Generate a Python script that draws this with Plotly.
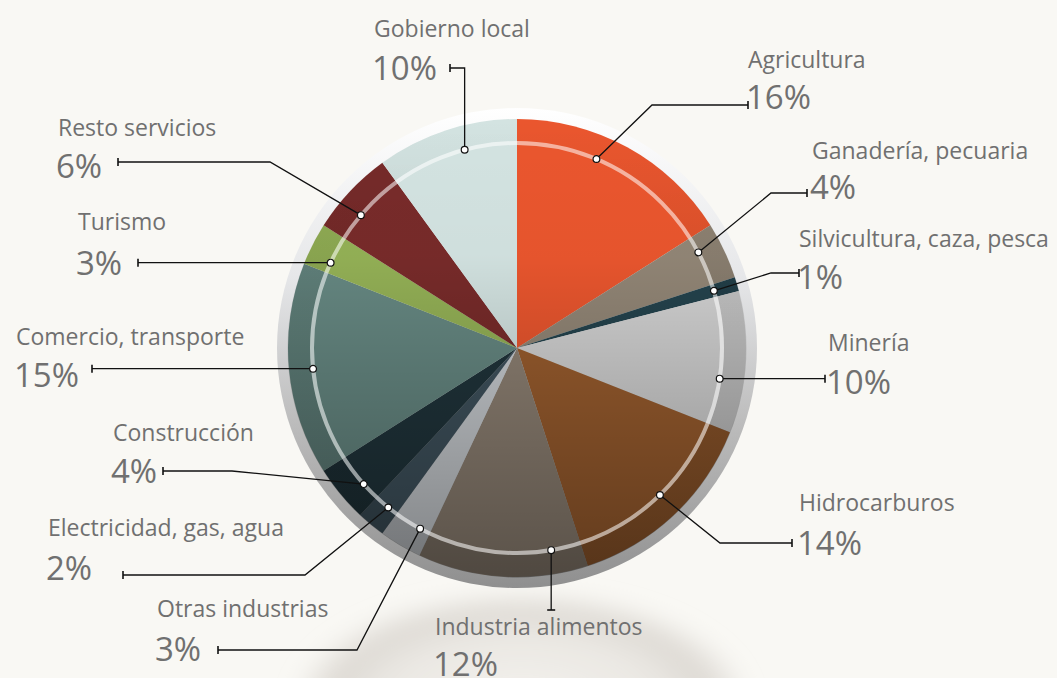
import base64
import math
import plotly.graph_objects as go

# ---------------- data ----------------
categories = [
    "Agricultura", "Ganadería, pecuaria", "Silvicultura, caza, pesca", "Minería",
    "Hidrocarburos", "Industria alimentos", "Otras industrias", "Electricidad, gas, agua",
    "Construcción", "Comercio, transporte", "Turismo", "Resto servicios", "Gobierno local",
]
shares = [16, 4, 1, 10, 14, 12, 3, 2, 4, 15, 3, 6, 10]
pct_labels = [f"{v}%" for v in shares]

# ---------------- styles / layout ----------------
slice_colors = [
    "#EA562E", "#928676", "#24434D", "#D2D2D2", "#9A5D2E", "#8E8173", "#C9CDD1",
    "#3F525D", "#20343B", "#668882", "#94B156", "#782B2A", "#D3E3E1",
]
W, H = 1057, 678
CX, CY, R = 517, 348, 229
RING, DISC = 205, 240
BG = "#F9F8F4"
TXT = "#707070"
FONT = "Open Sans"

# label placement: (left x, name y, pct y)
label_pos = [
    (746, 59, 97), (810, 150, 187), (797, 238, 277), (826, 342, 381),
    (797, 502, 542), (433, 626, 663), (155, 608, 648), (46, 527, 567),
    (111, 432, 470), (14, 336, 374), (76, 221, 262), (56, 127, 165),
    (372, 28, 67),
]
# leader geometry: (dot angle offset deg, elbow, tick point, tick kind)
leaders = [
    (-6.0, (652, 105), (748, 105), "v"),
    (-2.6, (771, 193), (807, 193), "v"),
    (0.0, (771, 273), (799, 273), "v"),
    (5.0, None, (825, None), "v"),
    (-1.0, (720, 543), (792, 543), "v"),
    (-13.2, None, (None, 610), "h"),
    (-2.4, (357, 650), (218, 650), "v"),
    (-0.7, (305, 575), (123, 575), "v"),
    (-2.0, (232, 471), (163, 471), "v"),
    (-0.4, None, (92, None), "v"),
    (-2.4, None, (138, None), "v"),
    (-2.8, (270, 162), (118, 162), "v"),
    (3.2, ("dot", 68), (450, 68), "v"),
]


def px(x, y):
    return x / W, 1 - y / H


def svg_uri(svg):
    return "data:image/svg+xml;base64," + base64.b64encode(svg.encode("utf-8")).decode("ascii")


# background decoration (below the pie)
below_svg = f"""<svg xmlns='http://www.w3.org/2000/svg' width='{W}' height='{H}' viewBox='0 0 {W} {H}'>
<defs>
<filter id='bl' x='-30%' y='-30%' width='160%' height='160%'><feGaussianBlur stdDeviation='10'/></filter>
<radialGradient id='sh' cx='0.5' cy='0.5' r='0.5'>
<stop offset='0' stop-color='#F1EFEB' stop-opacity='0.75'/>
<stop offset='0.6' stop-color='#E9E6E1' stop-opacity='0.9'/>
<stop offset='0.82' stop-color='#DCD8D2' stop-opacity='0.95'/>
<stop offset='1' stop-color='#DCD8D2' stop-opacity='0'/>
</radialGradient>
<linearGradient id='disc' gradientUnits='userSpaceOnUse' x1='0' y1='{CY-DISC}' x2='0' y2='{CY+DISC}'>
<stop offset='0' stop-color='#FFFFFF'/>
<stop offset='0.35' stop-color='#E6E7E9'/>
<stop offset='0.65' stop-color='#BDBDBD'/>
<stop offset='1' stop-color='#8F8F8F'/>
</linearGradient>
</defs>
<ellipse cx='{CX+4}' cy='{CY+358}' rx='232' ry='116' fill='url(#sh)' filter='url(#bl)'/>
<circle cx='{CX}' cy='{CY}' r='{DISC}' fill='url(#disc)'/>
</svg>"""

# shading over the pie (above)
ann = (f"M {CX-R} {CY} A {R} {R} 0 1 0 {CX+R} {CY} A {R} {R} 0 1 0 {CX-R} {CY} Z "
       f"M {CX-RING-2} {CY} A {RING+2} {RING+2} 0 1 0 {CX+RING+2} {CY} A {RING+2} {RING+2} 0 1 0 {CX-RING-2} {CY} Z")
above_svg = f"""<svg xmlns='http://www.w3.org/2000/svg' width='{W}' height='{H}' viewBox='0 0 {W} {H}'>
<defs>
<linearGradient id='g' gradientUnits='userSpaceOnUse' x1='0' y1='{CY-R}' x2='0' y2='{CY+R}'>
<stop offset='0' stop-color='#000' stop-opacity='0'/>
<stop offset='0.3' stop-color='#000' stop-opacity='0.02'/>
<stop offset='1' stop-color='#000' stop-opacity='0.36'/>
</linearGradient>
<linearGradient id='b' gradientUnits='userSpaceOnUse' x1='0' y1='{CY-R}' x2='0' y2='{CY+R}'>
<stop offset='0' stop-color='#000' stop-opacity='0'/>
<stop offset='0.4' stop-color='#000' stop-opacity='0.08'/>
<stop offset='1' stop-color='#000' stop-opacity='0.12'/>
</linearGradient>
</defs>
<circle cx='{CX}' cy='{CY}' r='{R+0.5}' fill='url(#g)'/>
<path d='{ann}' fill='url(#b)' fill-rule='evenodd'/>
</svg>"""

fig = go.Figure()
fig.add_trace(go.Pie(
    labels=categories, values=shares, sort=False, direction="clockwise", rotation=0,
    marker=dict(colors=slice_colors, line=dict(width=0)),
    textinfo="none", hoverinfo="label+percent", showlegend=False,
    domain=dict(x=[(CX - R) / W, (CX + R) / W], y=[(H - CY - R) / H, (H - CY + R) / H]),
))

shapes = []
annotations = []
total = sum(shares)
cum = 0
LINE = dict(color="#111111", width=1.3)
for i, (cat, v) in enumerate(zip(categories, shares)):
    mid = (cum + v / 2) / total * 360
    cum += v
    off, elbow, tick, kind = leaders[i]
    a = math.radians(mid + off)
    dx = CX + RING * math.sin(a)
    dy = CY - RING * math.cos(a)
    tx = dx if tick[0] is None else tick[0]
    ty = dy if tick[1] is None else tick[1]
    pts = [(dx, dy)]
    if elbow is not None:
        ex = dx if elbow[0] == "dot" else elbow[0]
        pts.append((ex, elbow[1]))
    pts.append((tx, ty))
    path = "M " + " L ".join("{:.5f} {:.5f}".format(*px(x, y)) for x, y in pts)
    shapes.append(dict(type="path", xref="paper", yref="paper", path=path, line=LINE, layer="above"))
    if kind == "v":
        x0, y0 = px(tx, ty - 4)
        x1, y1 = px(tx, ty + 4)
    else:
        x0, y0 = px(tx - 4, ty)
        x1, y1 = px(tx + 4, ty)
    shapes.append(dict(type="line", xref="paper", yref="paper", x0=x0, y0=y0, x1=x1, y1=y1,
                       line=dict(color="#111111", width=1.6), layer="above"))
    r = 3.4
    cx0, cy0 = px(dx - r, dy + r)
    cx1, cy1 = px(dx + r, dy - r)
    shapes.append(dict(type="circle", xref="paper", yref="paper", x0=cx0, y0=cy0, x1=cx1, y1=cy1,
                       fillcolor="#FFFFFF", line=dict(color="#111111", width=1.2), layer="above"))
    lx, ny, py = label_pos[i]
    ax_, ay_ = px(lx, ny)
    annotations.append(dict(x=ax_, y=ay_, xref="paper", yref="paper", text=cat, showarrow=False,
                            xanchor="left", yanchor="middle", font=dict(family=FONT, size=23, color=TXT)))
    ax_, ay_ = px(lx - 2, py)
    annotations.append(dict(x=ax_, y=ay_, xref="paper", yref="paper", text=pct_labels[i], showarrow=False,
                            xanchor="left", yanchor="middle", font=dict(family=FONT, size=33, color=TXT)))

rx0, ry0 = px(CX - RING, CY + RING)
rx1, ry1 = px(CX + RING, CY - RING)
shapes.insert(0, dict(type="circle", xref="paper", yref="paper", x0=rx0, y0=ry0, x1=rx1, y1=ry1,
                      line=dict(color="rgba(255,255,255,0.55)", width=4), layer="above"))

fig.update_layout(
    width=W, height=H, margin=dict(l=0, r=0, t=0, b=0),
    paper_bgcolor=BG, plot_bgcolor=BG, showlegend=False,
    shapes=shapes, annotations=annotations,
    images=[
        dict(source=svg_uri(below_svg), xref="paper", yref="paper", x=0, y=1, sizex=1, sizey=1,
             xanchor="left", yanchor="top", sizing="stretch", layer="below"),
        dict(source=svg_uri(above_svg), xref="paper", yref="paper", x=0, y=1, sizex=1, sizey=1,
             xanchor="left", yanchor="top", sizing="stretch", layer="above"),
    ],
)

fig.write_html(
    "out.html",
    config={"displayModeBar": False},
    post_script="document.body.style.margin='0';document.body.style.background='" + BG + "';",
)
